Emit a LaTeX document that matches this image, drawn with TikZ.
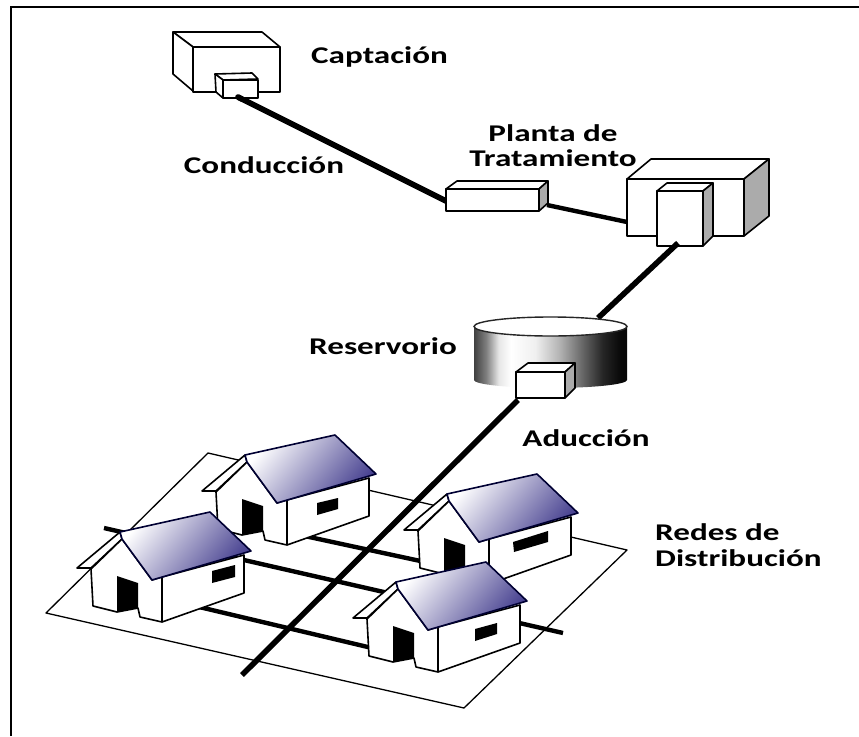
\documentclass[tikz,border=0pt]{standalone}
\usepackage{fontspec}
\newfontfamily\lblfont[FakeStretch=1.38]{Carlito}
\usetikzlibrary{calc}
\definecolor{roofblue}{HTML}{453F8F}
\definecolor{sidegray}{HTML}{ABABAB}
\pgfdeclarehorizontalshading{tankshade}{100bp}{
 color(0bp)=(black!75); color(25bp)=(black!75); color(29bp)=(black!50); color(33bp)=(black!10); color(37bp)=(white); color(45bp)=(black!6);
 color(53bp)=(black!30); color(61bp)=(black!62); color(67bp)=(black!85); color(73bp)=(black!97); color(100bp)=(black)}
\tikzset{
 x=1pt,y=-1pt,
 frameline/.style={draw=black,line width=2.2pt},
 boxface/.style={draw=black,line width=1.6pt,fill=white,line join=round},
 boxside/.style={draw=black,line width=1.6pt,fill=sidegray,line join=round},
 pipeline/.style={draw=black,line width=5.6pt},
 crossline/.style={draw=black,line width=4.4pt},
 plane/.style={draw=black,line width=1.3pt,fill=white,line join=round},
 wall/.style={draw=black,line width=1.6pt,fill=white,line join=round},
 roof/.style={draw=black!80!blue,line width=1.6pt,line join=round,top color=white,bottom color=roofblue,shading angle=50},
 lbl/.style={font=\lblfont\bfseries\fontsize{24}{25.5}\selectfont,align=center,inner sep=0pt,text=black}
}
\newcommand{\house}[9]{%
 \begin{scope}[shift={(#1,#2)}]
  \draw[wall] (120,532)--(77,568)--(91,568)--(122,539)--cycle;
  \draw[wall] (91,569)--(122,539)--(152,580)--(162,577)--(244,555)--(244,593)--(162,622)--(140,617)--(138,608)--(117,612)--(93,606)--cycle;
  \fill[black] (117,576)--(138,583)--(138,608)--(117,612)--cycle;
  \draw[black,line width=1.6pt] (162,577)--(162,622);
  \shadedraw[roof] (120,532)--(210,512)--(251,551)--(152,580)--(122,539)--cycle;
  \fill[black] (#3,#4)--(#5,#6)--(#7,#8)--(#9)--cycle;
 \end{scope}}
\begin{document}
\begin{tikzpicture}
\useasboundingbox (0,0) rectangle (859,736);
\fill[white] (0,0) rectangle (859,736);
\draw[frameline] (11,736)--(11,7)--(859,7);

% endpoints of the connectors
\coordinate (capOut) at (238,97);
\coordinate (midIn) at (446,201);
\coordinate (midOut) at (547,205);
\coordinate (plantIn) at (627,222);
\coordinate (plantOut) at (678,243);
\coordinate (tankIn) at (598,318);
\coordinate (tankOut) at (518,400);
\coordinate (mainEnd) at (242,675);
\coordinate (crossAa) at (300,535);
\coordinate (crossAb) at (425,562);
\coordinate (crossBa) at (104,528);
\coordinate (crossBb) at (563,633);
\coordinate (crossCa) at (195,606);
\coordinate (crossCb) at (372,648);

% ground plane
\draw[plane] (208,453)--(627,550)--(464,708)--(46,613)--cycle;

% pipes
\draw[crossline] (crossAa)--(crossAb);
\draw[crossline] (crossBa)--(crossBb);
\draw[crossline] (crossCa)--(crossCb);
\draw[pipeline] (tankOut)--(mainEnd);
\draw[pipeline] (capOut)--(midIn);
\draw[pipeline,line width=4.4pt] (midOut)--(plantIn);

% houses
\house{125}{-77}{192}{580}{213}{575}{213}{586}{192,592}
\house{327}{-38}{186}{580}{221}{569}{221}{580}{187,590}
\house{0}{0}{212}{571}{235}{565}{235}{577}{212,583}
\house{276}{50}{199}{579}{221}{573}{221}{584}{199,591}

% captacion
\draw[boxface] (173,32)--(262,32)--(280,47)--(193,47)--cycle;
\draw[boxface] (173,32)--(193,47)--(193,91)--(173,74)--cycle;
\draw[boxface] (193,47) rectangle (280,92);
\draw[boxface] (215,74)--(252,73)--(258,79)--(223,80)--cycle;
\draw[boxface] (215,74)--(223,80)--(223,98)--(216,92)--cycle;
\draw[boxface] (223,80) rectangle (258,98);
\draw[pipeline,line cap=round] (capOut)--($(capOut)!0.02!(midIn)$);

% middle box
\draw[boxface] (446,189)--(457,181)--(548,181)--(539,189)--cycle;
\draw[boxside] (539,189)--(548,181)--(548,203)--(539,211)--cycle;
\draw[boxface] (446,189) rectangle (539,211);

% plant
\draw[boxface] (627,179)--(651,159)--(769,159)--(744,179)--cycle;
\draw[boxside] (744,179)--(769,159)--(769,216)--(744,236)--cycle;
\draw[boxface] (627,179) rectangle (744,236);
\draw[boxface] (657,191)--(667,183)--(713,183)--(703,191)--cycle;
\draw[boxside] (703,191)--(713,183)--(713,236)--(703,246)--cycle;
\draw[boxface] (657,191) rectangle (703,246);
\draw[pipeline] (plantOut)--(tankIn);

% reservoir
\shade[shading=tankshade] (474,326)--(474,380) arc[start angle=180,end angle=0,x radius=76.5,y radius=8]--(627,326)--cycle;
\draw[draw=black!85,line width=1.4pt,fill=white] (550.5,326.5) ellipse[x radius=76.5,y radius=9.5];
\draw[boxface] (516,372)--(528,363)--(575,363)--(565,372)--cycle;
\draw[boxside] (565,372)--(575,363)--(575,388)--(565,398)--cycle;
\draw[boxface] (516,372) rectangle (565,398);

% labels
\node[lbl] (captacion) at (379.5,57) {Captación};
\node[lbl] (conduccion) at (264,165) {Conducción};
\node[lbl] (planta) at (553,145.5) {Planta de\\Tratamiento};
\node[lbl] (reservorio) at (383,346) {Reservorio};
\node[lbl] (aduccion) at (586,438) {Aducción};
\node[lbl,align=left,anchor=west] (redes) at (655,545) {Redes de\\Distribución};
\end{tikzpicture}
\end{document}
